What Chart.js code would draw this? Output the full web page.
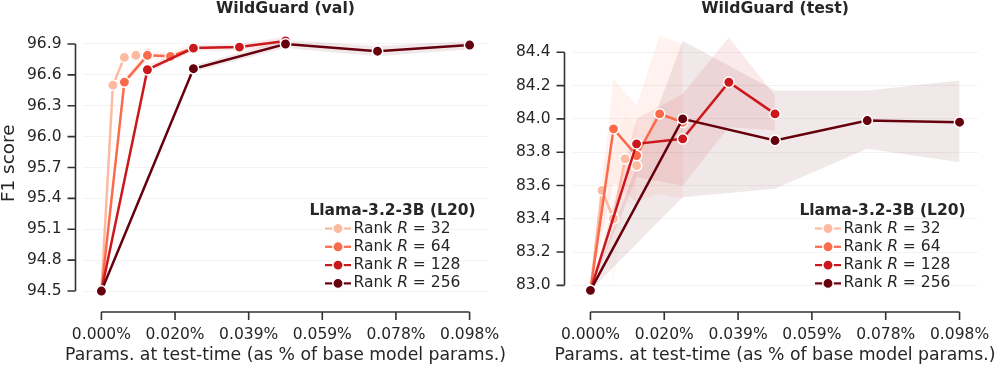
<!DOCTYPE html>
<html>
<head>
<meta charset="utf-8">
<script src="https://cdn.jsdelivr.net/npm/chart.js@4.4.1/dist/chart.umd.min.js"></script>
<style>
  html, body { margin: 0; padding: 0; background: #fff; }
  #wrap { position: relative; width: 997px; height: 366px; overflow: hidden; }
  #wrap canvas { position: absolute; top: 0; }
</style>
</head>
<body>
<div id="wrap">
  <canvas id="chartVal" width="510" height="366" style="left:0px"></canvas>
  <canvas id="chartTest" width="510" height="366" style="left:487px"></canvas>
</div>
<script>
const fontFam = "'DejaVu Sans', sans-serif";
const textCol = '#262626';

// x axis: params at test-time, % of base model params
const xTicks = [0, 0.01953, 0.03906, 0.05859, 0.07812, 0.09766];
const xTickLabels = ['0.000%', '0.020%', '0.039%', '0.059%', '0.078%', '0.098%'];
const xTitle = 'Params. at test-time (as % of base model params.)';

const rankLabels = ['32', '64', '128', '256'];
const rankColors = ['#fcbba1', '#fb6a4a', '#cb181d', '#67000d'];

const x32 = [0, 0.00305, 0.0061, 0.00916, 0.01221];
const x64 = [0, 0.0061, 0.01221, 0.01831, 0.02441];
const x128 = [0, 0.01221, 0.02441, 0.03662, 0.04883];
const x256 = [0, 0.02441, 0.04883, 0.07324, 0.09766];

// WildGuard (val)
const valTicks = [94.5, 94.8, 95.1, 95.4, 95.7, 96.0, 96.3, 96.6, 96.9];
const val32 = [94.5, 96.50, 96.77, 96.79, 96.81];
const val32Lo = [94.5, 96.47, 96.73, 96.75, 96.77];
const val32Hi = [94.5, 96.53, 96.83, 96.84, 96.86];
const val64 = [94.5, 96.53, 96.79, 96.78, 96.86];
const val64Lo = [94.5, 96.50, 96.75, 96.75, 96.83];
const val64Hi = [94.5, 96.57, 96.83, 96.82, 96.90];
const val128 = [94.5, 96.65, 96.86, 96.87, 96.93];
const val128Lo = [94.5, 96.62, 96.83, 96.84, 96.89];
const val128Hi = [94.5, 96.69, 96.89, 96.90, 96.97];
const val256 = [94.5, 96.66, 96.90, 96.83, 96.89];
const val256Lo = [94.5, 96.63, 96.86, 96.78, 96.85];
const val256Hi = [94.5, 96.69, 96.94, 96.88, 96.93];

// WildGuard (test)
const testTicks = [83.0, 83.2, 83.4, 83.6, 83.8, 84.0, 84.2, 84.4];
const test32 = [82.97, 83.57, 83.40, 83.76, 83.72];
const test32Lo = [82.97, 83.38, 83.00, 83.50, 83.48];
const test32Hi = [82.97, 83.75, 83.80, 84.02, 83.97];
const test64 = [82.97, 83.94, 83.78, 84.03, 83.98];
const test64Lo = [82.97, 83.62, 83.50, 83.55, 83.52];
const test64Hi = [82.97, 84.24, 84.08, 84.50, 84.45];
const test128 = [82.97, 83.85, 83.88, 84.22, 84.03];
const test128Lo = [82.97, 83.65, 83.60, 83.95, 83.93];
const test128Hi = [82.97, 84.00, 84.15, 84.49, 84.14];
const test256 = [82.97, 84.00, 83.87, 83.99, 83.98];
const test256Lo = [82.97, 83.53, 83.58, 83.82, 83.74];
const test256Hi = [82.97, 84.47, 84.17, 84.17, 84.23];

function pts(xs, ys) {
  return xs.map((x, i) => ({ x: x, y: ys[i] }));
}

function rgba(hex, a) {
  const n = parseInt(hex.slice(1), 16);
  return 'rgba(' + (n >> 16) + ',' + ((n >> 8) & 255) + ',' + (n & 255) + ',' + a + ')';
}

function makeDatasets(series) {
  const ds = [];
  // bands first (under all lines, like matplotlib collections)
  series.forEach((s, i) => {
    ds.push({ data: pts(s.xs, s.lo), borderWidth: 0, borderColor: 'rgba(0,0,0,0)', pointRadius: 0, fill: false, order: 1000 - ds.length });
    ds.push({ data: pts(s.xs, s.hi), borderWidth: 0, borderColor: 'rgba(0,0,0,0)', pointRadius: 0, fill: '-1',
      backgroundColor: rgba(rankColors[i], 0.09), order: 1000 - ds.length });
  });
  series.forEach((s, i) => {
    ds.push({
      data: pts(s.xs, s.mid), borderColor: rankColors[i], backgroundColor: rankColors[i],
      borderWidth: 2.5, pointRadius: 5.2, pointBackgroundColor: rankColors[i],
      pointBorderColor: '#fff', pointBorderWidth: 1.5, fill: false, order: 500 - ds.length
    });
  });
  return ds;
}

// trimmed, offset spines + titles centred on the plot area
// (chart.js squeezes a long scale title to the axis width, and centres the title on the whole canvas)
function spinePlugin(yTicks, title) {
  return {
    id: 'spines',
    afterDraw(chart) {
      const ctx = chart.ctx, a = chart.chartArea;
      const x = chart.scales.x, y = chart.scales.y;
      const sx = a.left - 7.5, sy = a.bottom + 8.5;
      const cx = (a.left + a.right) / 2;
      ctx.save();
      ctx.strokeStyle = '#333';
      ctx.lineWidth = 1.6;
      ctx.beginPath();
      ctx.moveTo(sx, y.getPixelForValue(yTicks[yTicks.length - 1]));
      ctx.lineTo(sx, y.getPixelForValue(yTicks[0]));
      yTicks.forEach(v => {
        const p = y.getPixelForValue(v);
        ctx.moveTo(sx, p); ctx.lineTo(sx - 8, p);
      });
      ctx.moveTo(x.getPixelForValue(xTicks[0]), sy);
      ctx.lineTo(x.getPixelForValue(xTicks[xTicks.length - 1]), sy);
      xTicks.forEach(v => {
        const p = x.getPixelForValue(v);
        ctx.moveTo(p, sy); ctx.lineTo(p, sy + 8);
      });
      ctx.stroke();

      ctx.fillStyle = textCol;
      ctx.textAlign = 'center';
      ctx.textBaseline = 'middle';
      ctx.font = '17.3px ' + fontFam;
      ctx.fillText(xTitle, cx, 355.5);
      ctx.font = 'bold 15.7px ' + fontFam;
      ctx.fillText(title, cx, 9.4);
      ctx.restore();
    }
  };
}

const legendPlugin = {
  id: 'rankLegend',
  afterDraw(chart) {
    const ctx = chart.ctx, a = chart.chartArea;
    ctx.save();
    ctx.fillStyle = textCol;
    ctx.font = 'bold 15.5px ' + fontFam;
    ctx.textAlign = 'center';
    ctx.textBaseline = 'middle';
    ctx.fillText('Llama-3.2-3B (L20)', a.right - 95.5, a.bottom - 92.5);
    rankLabels.forEach((r, i) => {
      const y = a.bottom - 75 + i * 18.3;
      const hx = a.right - 163;
      ctx.strokeStyle = rankColors[i];
      ctx.lineWidth = 2.2;
      ctx.beginPath(); ctx.moveTo(hx, y); ctx.lineTo(hx + 26, y); ctx.stroke();
      ctx.beginPath(); ctx.arc(hx + 13, y, 5.2, 0, 2 * Math.PI);
      ctx.fillStyle = rankColors[i]; ctx.fill();
      ctx.strokeStyle = '#fff'; ctx.lineWidth = 1.5; ctx.stroke();
      let tx = hx + 28.5;
      ctx.fillStyle = textCol;
      ctx.textAlign = 'left';
      ctx.font = '15.5px ' + fontFam;
      ctx.fillText('Rank ', tx, y); tx += ctx.measureText('Rank ').width;
      ctx.font = 'italic 15.5px ' + fontFam;
      ctx.fillText('R', tx, y); tx += ctx.measureText('R').width;
      ctx.font = '15.5px ' + fontFam;
      ctx.fillText(' = ' + r, tx, y);
    });
    ctx.restore();
  }
};

function buildChart(id, title, series, yTicks, yMin, yMax, showYTitle, padRight, yWidth) {
  new Chart(document.getElementById(id), {
    type: 'line',
    data: { datasets: makeDatasets(series) },
    options: {
      responsive: false,
      animation: false,
      layout: { padding: { top: 23, right: padRight, bottom: 0, left: 0 } },
      plugins: {
        legend: { display: false },
        tooltip: { enabled: false },
        title: { display: false }
      },
      scales: {
        x: {
          type: 'linear', bounds: 'data', min: -0.00488, max: 0.10254,
          grid: { display: false }, border: { display: false },
          afterBuildTicks: s => { s.ticks = xTicks.map(v => ({ value: v })); },
          afterFit: s => { s.height = 62.5; s.paddingLeft = 0; s.paddingRight = 0; },
          ticks: {
            padding: 14.5, color: textCol, maxRotation: 0, autoSkip: false,
            font: { family: fontFam, size: 15.5 },
            callback: (v, i) => xTickLabels[i]
          },
          title: { display: false }
        },
        y: {
          type: 'linear', bounds: 'data', min: yMin, max: yMax,
          grid: { color: '#f3f3f3', drawTicks: false, lineWidth: 1 }, border: { display: false },
          afterBuildTicks: s => { s.ticks = yTicks.map(v => ({ value: v })); },
          afterFit: s => { s.width = yWidth; s.paddingTop = 0; s.paddingBottom = 0; },
          ticks: {
            padding: 21.5, color: textCol, autoSkip: false,
            font: { family: fontFam, size: 15.5 },
            callback: v => v.toFixed(1)
          },
          title: {
            display: showYTitle, text: 'F1 score', color: textCol,
            font: { family: fontFam, size: 18.4, lineHeight: 1 }, padding: 0
          }
        }
      }
    },
    plugins: [spinePlugin(yTicks, title), legendPlugin]
  });
}

buildChart('chartVal', 'WildGuard (val)', [
  { xs: x32, mid: val32, lo: val32Lo, hi: val32Hi },
  { xs: x64, mid: val64, lo: val64Lo, hi: val64Hi },
  { xs: x128, mid: val128, lo: val128Lo, hi: val128Hi },
  { xs: x256, mid: val256, lo: val256Lo, hi: val256Hi }
], valTicks, 94.379, 97.104, true, 22, 83);

buildChart('chartTest', 'WildGuard (test)', [
  { xs: x32, mid: test32, lo: test32Lo, hi: test32Hi },
  { xs: x64, mid: test64, lo: test64Lo, hi: test64Hi },
  { xs: x128, mid: test128, lo: test128Lo, hi: test128Hi },
  { xs: x256, mid: test256, lo: test256Lo, hi: test256Hi }
], testTicks, 82.891, 84.576, false, 19, 85);
</script>
</body>
</html>
